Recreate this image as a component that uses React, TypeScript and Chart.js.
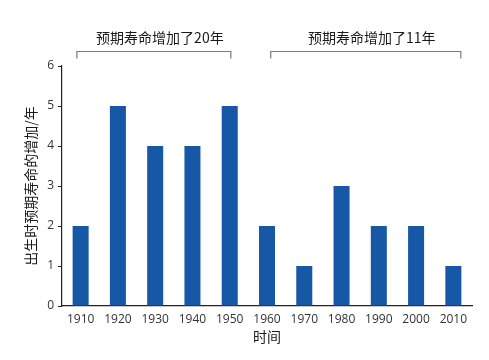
import React, { useEffect, useRef } from "react";
import { Chart, registerables } from "chart.js";

Chart.register(...registerables);

const decades = ["1910", "1920", "1930", "1940", "1950", "1960", "1970", "1980", "1990", "2000", "2010"];
const gains = [2, 5, 4, 4, 5, 2, 1, 3, 2, 2, 1];
const bracketLabels = ["预期寿命增加了20年", "预期寿命增加了11年"];
const bracketFrom = [-0.1, 5.1];
const bracketTo = [4.03, 10.2];

const CJK = '"Noto Sans CJK SC", "Noto Sans", sans-serif';
const LATIN = '"Open Sans", "Noto Sans", sans-serif';

const bracketPlugin = {
  id: "brackets",
  afterDraw(chart: any) {
    const ctx = chart.ctx;
    const xs = chart.scales.x;
    ctx.save();
    for (let i = 0; i < bracketLabels.length; i++) {
      const x1 = xs.getPixelForValue(bracketFrom[i]);
      const x2 = xs.getPixelForValue(bracketTo[i]);
      const y = 51.5;
      ctx.strokeStyle = "#7a7a7a";
      ctx.lineWidth = 1.2;
      ctx.beginPath();
      ctx.moveTo(x1, y + 7);
      ctx.lineTo(x1, y);
      ctx.lineTo(x2, y);
      ctx.lineTo(x2, y + 7);
      ctx.stroke();
      ctx.fillStyle = "#1a1a1a";
      ctx.font = `14px ${CJK}`;
      ctx.textAlign = "center";
      ctx.textBaseline = "middle";
      ctx.fillText(bracketLabels[i], (x1 + x2) / 2 + 6, 37.5);
    }
    ctx.restore();
  },
};

export default function App() {
  const ref = useRef<HTMLCanvasElement | null>(null);
  useEffect(() => {
    if (!ref.current) return;
    const chart = new Chart(ref.current, {
      type: "bar",
      data: {
        labels: decades,
        datasets: [
          {
            data: gains,
            backgroundColor: "#1658a6",
            borderWidth: 0,
            barPercentage: 0.43,
            categoryPercentage: 1,
          },
        ],
      },
      options: {
        animation: false,
        responsive: true,
        maintainAspectRatio: false,
        layout: { padding: { top: 66, right: 17, bottom: 0, left: 0 } },
        plugins: { legend: { display: false }, tooltip: { enabled: false } },
        scales: {
          x: {
            afterFit: (s: any) => {
              s.height = 54;
            },
            grid: { display: true, drawOnChartArea: false, drawTicks: false },
            border: { display: true, color: "#222", width: 1.2 },
            ticks: { color: "#333", padding: 6, font: { family: LATIN, size: 12 } },
            title: {
              display: true,
              text: "时间",
              color: "#1a1a1a",
              font: { family: CJK, size: 14 },
              padding: { top: 0, bottom: 15 },
            },
          },
          y: {
            min: 0,
            max: 6,
            afterFit: (s: any) => {
              s.width = 62;
            },
            grid: { display: true, drawOnChartArea: false, drawTicks: true, tickLength: 4, color: "#222" },
            border: { display: true, color: "#222", width: 1.2 },
            ticks: { stepSize: 1, color: "#333", padding: 4, font: { family: LATIN, size: 12 } },
            title: {
              display: true,
              text: "出生时预期寿命的增加/年",
              color: "#1a1a1a",
              font: { family: CJK, size: 14 },
              padding: { top: 22, bottom: 0 },
            },
          },
        },
      },
      plugins: [bracketPlugin],
    });
    return () => chart.destroy();
  }, []);
  return (
    <div style={{ position: "fixed", left: 0, top: 0, width: 489, height: 360, background: "#fff" }}>
      <canvas ref={ref} />
    </div>
  );
}
